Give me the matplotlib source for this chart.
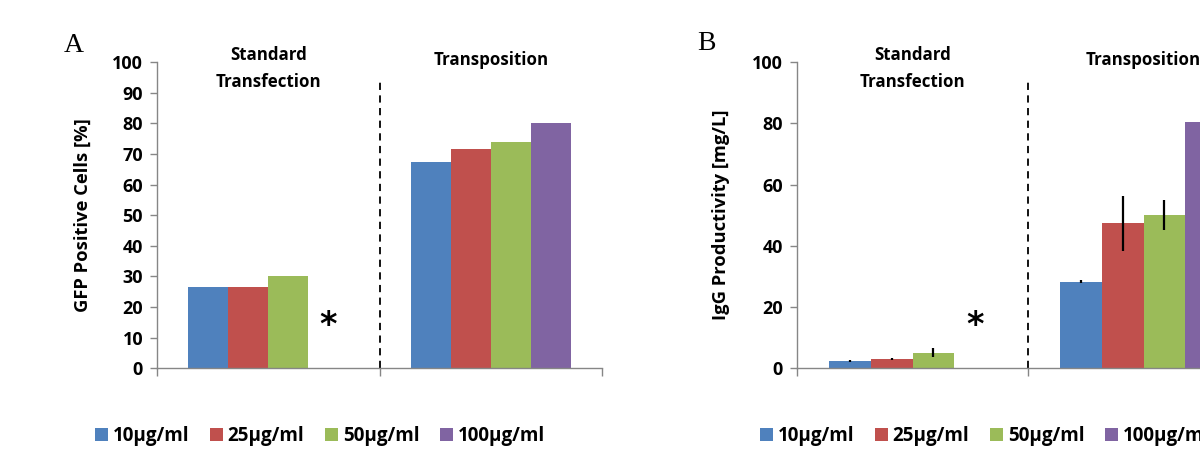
import numpy as np
import matplotlib.pyplot as plt
from matplotlib.patches import Patch

plt.rcParams['font.family'] = ['Open Sans', 'DejaVu Sans']
plt.rcParams['font.weight'] = 'bold'

# ---- data ----
groups = ['Standard\nTransfection', 'Transposition']
concentrations = ['10μg/ml', '25μg/ml', '50μg/ml', '100μg/ml']
colors = ['#4F81BD', '#C0504D', '#9BBB59', '#8064A2']

# GFP positive cells [%], per concentration: (standard, transposition)
gfp_standard = [26.5, 26.5, 30.0, np.nan]
gfp_transposition = [67.2, 71.6, 74.0, 80.0]

# IgG productivity [mg/L]
igg_standard = [2.5, 2.9, 5.1, np.nan]
igg_standard_err = [0.3, 0.3, 1.4, np.nan]
igg_transposition = [28.2, 47.3, 50.0, 80.5]
igg_transposition_err = [0.5, 9.0, 5.0, 2.0]

AXIS_GRAY = '#868686'
BAR_W = 0.18


def draw_panel(ax, std, trans, ylabel, yticks, label_x, std_err=None, trans_err=None):
    centers = np.arange(len(groups)) + 0.5
    for i, (c, col) in enumerate(zip(concentrations, colors)):
        off = (i - 1.5) * BAR_W
        vals = [std[i], trans[i]]
        for j, v in enumerate(vals):
            if np.isnan(v):
                continue
            ax.bar(centers[j] + off, v, BAR_W, color=col, zorder=2)
        if std_err is not None:
            errs = [std_err[i], trans_err[i]]
            for j, (v, e) in enumerate(zip(vals, errs)):
                if np.isnan(v):
                    continue
                ax.errorbar(centers[j] + off, v, yerr=e, fmt='none',
                            ecolor='black', elinewidth=1.6, capsize=0, zorder=3)
        # missing bar marked with an asterisk
        if np.isnan(std[i]):
            ax.text(centers[0] + off, 14, '*', ha='center', va='center',
                    fontsize=24, fontweight='bold', family='DejaVu Sans')

    ax.set_xlim(0, 2)
    ax.set_ylim(0, 100)
    ax.set_yticks(yticks)
    ax.set_xticks([0, 1, 2])
    ax.set_xticklabels([])
    ax.tick_params(axis='y', direction='out', length=5, width=1, color=AXIS_GRAY,
                   labelsize=13, pad=5)
    ax.tick_params(axis='x', direction='out', length=6, width=1, color=AXIS_GRAY)
    for lab in ax.get_yticklabels():
        lab.set_fontweight('bold')
    for s in ['top', 'right']:
        ax.spines[s].set_visible(False)
    for s in ['left', 'bottom']:
        ax.spines[s].set_color(AXIS_GRAY)
        ax.spines[s].set_linewidth(1)
    ax.set_ylabel(ylabel, fontsize=13.2, fontweight='bold')
    ax.yaxis.set_label_coords(label_x, 0.5)

    # group divider and group titles
    ax.plot([1, 1], [0, 94], ls=(0, (4, 3)), color='black', lw=1.3, clip_on=False)
    ax.text(centers[0], 97.9, groups[0], ha='center', va='center', fontsize=12.2,
            fontweight='bold', linespacing=1.65)
    ax.text(centers[1], 100.6, groups[1], ha='center', va='center', fontsize=12.2,
            fontweight='bold')


fig = plt.figure(figsize=(12, 4.66), dpi=100)
ax_a = fig.add_axes([157 / 1200, 1 - 368.3 / 466, 445 / 1200, 306.3 / 466])
ax_b = fig.add_axes([797 / 1200, 1 - 368.3 / 466, 462 / 1200, 306.3 / 466])

draw_panel(ax_a, gfp_standard, gfp_transposition, 'GFP Positive Cells [%]',
           np.arange(0, 101, 10), -0.146)
draw_panel(ax_b, igg_standard, igg_transposition, 'IgG Productivity [mg/L]',
           np.arange(0, 101, 20), -0.145, igg_standard_err, igg_transposition_err)

fig.text(64 / 1200, 1 - 45 / 466, 'A', fontsize=20, fontweight='normal',
         family='Liberation Serif', ha='left', va='center')
fig.text(697 / 1200, 1 - 43 / 466, 'B', fontsize=20, fontweight='normal',
         family='Liberation Serif', ha='left', va='center')

handles = [Patch(facecolor=c, edgecolor='none') for c in colors]
for x0 in (78 / 1200, 743 / 1200):
    fig.legend(handles, concentrations, loc='center left',
               bbox_to_anchor=(x0, 1 - 436 / 466), ncol=4, frameon=False,
               handlelength=0.7, handleheight=0.65, handletextpad=0.25,
               columnspacing=1.1, prop={'size': 13.5, 'weight': 'bold'})

fig.savefig('out.png', dpi=100)
